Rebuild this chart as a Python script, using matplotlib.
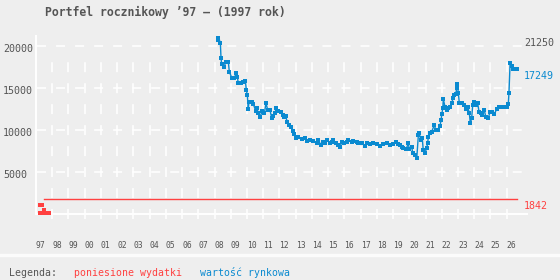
import matplotlib
matplotlib.use("Agg")
import matplotlib.pyplot as plt
from matplotlib.transforms import blended_transform_factory, ScaledTranslation

plt.rcParams['lines.scale_dashes'] = False

# ---------------- data ----------------
title = "Portfel rocznikowy ’97 – (1997 rok)"
year_labels = ["97", "98", "99", "00", "01", "02", "03", "04", "05", "06", "07", "08", "09",
               "10", "11", "12", "13", "14", "15", "16", "17", "18", "19", "20", "21", "22",
               "23", "24", "25", "26"]
year_starts = list(range(1997, 2027))
y_ticks = [5000, 10000, 15000, 20000]

blue_years = [2008.20, 2008.23, 2008.36, 2008.40, 2008.44, 2008.60, 2008.69, 2008.85, 2008.91,
              2009.06, 2009.22, 2009.34, 2009.40, 2009.46, 2009.63, 2009.77, 2009.90, 2009.96,
              2010.02, 2010.08, 2010.12, 2010.29, 2010.39, 2010.54, 2010.60, 2010.70, 2010.80,
              2010.94, 2011.07, 2011.17, 2011.28, 2011.42, 2011.52, 2011.62, 2011.73, 2011.79,
              2011.93, 2012.10, 2012.20, 2012.30, 2012.39, 2012.48, 2012.61, 2012.71, 2012.85,
              2012.92, 2013.00, 2013.16, 2013.37, 2013.57, 2013.68, 2013.88, 2014.09, 2014.30,
              2014.40, 2014.54, 2014.70, 2014.81, 2014.95, 2015.11, 2015.22, 2015.32, 2015.48,
              2015.63, 2015.73, 2015.84, 2015.98, 2016.14, 2016.24, 2016.45, 2016.55, 2016.76,
              2016.86, 2017.07, 2017.27, 2017.38, 2017.58, 2017.78, 2017.99, 2018.20, 2018.40,
              2018.61, 2018.81, 2019.02, 2019.18, 2019.32, 2019.43, 2019.53, 2019.63, 2019.80,
              2019.94, 2020.00, 2020.15, 2020.21, 2020.35, 2020.46, 2020.56, 2020.62, 2020.70,
              2020.80, 2020.86, 2020.97, 2021.07, 2021.13, 2021.17, 2021.28, 2021.38, 2021.54,
              2021.63, 2021.79, 2021.89, 2021.96, 2022.00, 2022.06, 2022.10, 2022.20, 2022.31,
              2022.40, 2022.51, 2022.61, 2022.71, 2022.77, 2022.86, 2022.92, 2022.96, 2023.02,
              2023.08, 2023.23, 2023.39, 2023.47, 2023.60, 2023.70, 2023.76, 2023.84, 2023.91,
              2023.99, 2024.09, 2024.21, 2024.30, 2024.42, 2024.50, 2024.62, 2024.71, 2024.87,
              2024.97, 2025.11, 2025.24, 2025.38, 2025.53, 2025.79, 2026.00, 2026.10, 2026.14,
              2026.21, 2026.31, 2026.41, 2026.62]
blue_values = [20750, 21250, 20350, 18570, 17860, 17570, 18170, 18170, 16980,
               16260, 16260, 16790, 16380, 15670, 15600, 15710, 15870, 14800,
               14200, 12540, 13400, 13400, 13130, 12300, 12620, 12100, 11550,
               12330, 12020, 13210, 12420, 12420, 11430, 11700, 12020, 12620,
               12330, 12210, 11820, 11550, 11700, 10950, 10630, 10430, 9920,
               9520, 9050, 9170, 8930, 9050, 8730, 8850, 8760, 8450,
               8850, 8250, 8650, 8450, 8850, 8450, 8650, 8850, 8450,
               8250, 7970, 8650, 8450, 8650, 8850, 8650, 8770, 8650,
               8450, 8450, 8130, 8530, 8370, 8450, 8370, 8130, 8370,
               8450, 8250, 8370, 8650, 8370, 8250, 8050, 7860, 7730,
               8450, 7730, 8050, 7260, 7060, 6670, 9440, 9640, 8850,
               9050, 7650, 7330, 7860, 8450, 9170, 9640, 9830, 10630,
               10040, 10040, 10510, 11230, 11900, 12620, 13690, 12800, 12420,
               12620, 12800, 13290, 13810, 14200, 14290, 15000, 15480, 14480,
               13290, 13210, 13000, 12500, 12800, 12020, 10830, 11430, 13000,
               13400, 13000, 13210, 12210, 12020, 11820, 12420, 11620, 11430,
               12210, 12210, 11930, 12500, 12740, 12740, 12740, 13130, 14400,
               17980, 17650, 17260, 17249]

red_years = [1997.49, 1997.80, 2026.62]
red_values = [1780, 1842, 1842]
red_pt_years = [1997.27, 1997.37, 1997.50, 1997.27, 1997.35, 1997.44, 1997.70, 1997.82]
red_pt_values = [1100, 1100, 560, 150, 150, 150, 150, 150]

max_label = "21250"
last_blue = "17249"
last_red = "1842"

# ---------------- style ----------------
BG = "#eeeeee"
GRAY = "#555555"
BLUE = "#0a8ad0"
RED = "#ff4040"
MONO = "DejaVu Sans Mono"

W, H = 560, 280
fig = plt.figure(figsize=(W / 100, H / 100), dpi=100, facecolor=BG)

def fx(px):
    return px / W

def fy(py):
    return 1 - py / H

left_px, right_px, top_px, bot_px = 36, 527, 35.8, 214.3
ax = fig.add_axes([fx(left_px), fy(bot_px), fx(right_px - left_px), (bot_px - top_px) / H])
ax.set_facecolor(BG)
ax.set_xlim(1997, 1997 + (right_px - left_px) / 16.23)
ax.set_ylim(0, 21250)

for s in ["top", "right"]:
    ax.spines[s].set_visible(False)
for s in ["left", "bottom"]:
    ax.spines[s].set_color("white")
    ax.spines[s].set_linewidth(1.4)

# grid
ax.hlines(y_ticks, 1997.08, 2026.95, colors="white", linewidth=1.1,
          linestyles=[(0, (6.5, 7.2))], zorder=1)
ax.vlines(year_starts[1:], -595, 18095, colors="white", linewidth=1.1,
          linestyles=[(0, (7.2, 7.9))], zorder=1, clip_on=False)

# data
ax.plot(red_years, red_values, drawstyle="steps-post", color=RED, linewidth=1.0, zorder=3)
ax.plot(red_pt_years, red_pt_values, linestyle="none", marker="s", markersize=2.6,
        markeredgewidth=0, color=RED, zorder=3, clip_on=False)
ax.plot(blue_years, blue_values, color=BLUE, linewidth=1.0, marker="s", markersize=2.4,
        markeredgewidth=0, zorder=4)

# x tick labels (left aligned at year start)
ax.set_xticks(year_starts)
ax.set_xticklabels(year_labels, fontfamily=MONO, fontsize=5.8, color=GRAY, ha="left")
ax.tick_params(axis="x", length=0, pad=19)
ax.set_yticks([])

# y tick labels (left aligned at figure edge)
ytr = blended_transform_factory(fig.transFigure, ax.transData) + \
    ScaledTranslation(0, -3 / 100, fig.dpi_scale_trans)
for v in y_ticks:
    ax.text(fx(3), v, str(v), transform=ytr, ha="left", va="center",
            fontfamily=MONO, fontsize=7.2, color=GRAY)

# right-side value labels
rtr = blended_transform_factory(fig.transFigure, ax.transData) + \
    ScaledTranslation(0, -6.8 / 100, fig.dpi_scale_trans)
ax.text(fx(524), float(max_label), max_label, transform=rtr, ha="left", va="center",
        fontfamily=MONO, fontsize=7.2, color=GRAY, clip_on=False)
ax.text(fx(524), float(last_blue), last_blue, transform=rtr, ha="left", va="center",
        fontfamily=MONO, fontsize=7.2, color=BLUE, clip_on=False)
ax.text(fx(524), float(last_red), last_red, transform=rtr, ha="left", va="center",
        fontfamily=MONO, fontsize=7.2, color=RED, clip_on=False)

# title
fig.text(fx(45), fy(12.5), title, ha="left", va="center", fontfamily=MONO,
         fontweight="bold", fontsize=8.3, color=GRAY)

# separator and legend
fig.add_artist(plt.Line2D([0, 1], [fy(255), fy(255)], transform=fig.transFigure,
                          color="#fbfbfb", linewidth=2.4))
fig.text(fx(9.5), fy(272.5), "Legenda:", ha="left", va="center", fontfamily=MONO,
         fontsize=7.1, color=GRAY)
fig.text(fx(74), fy(272.5), "poniesione wydatki", ha="left", va="center", fontfamily=MONO,
         fontsize=7.1, color=RED)
fig.text(fx(200), fy(272.5), "wartość rynkowa", ha="left", va="center", fontfamily=MONO,
         fontsize=7.1, color=BLUE)

fig.savefig("out.png", dpi=100, facecolor=BG)
